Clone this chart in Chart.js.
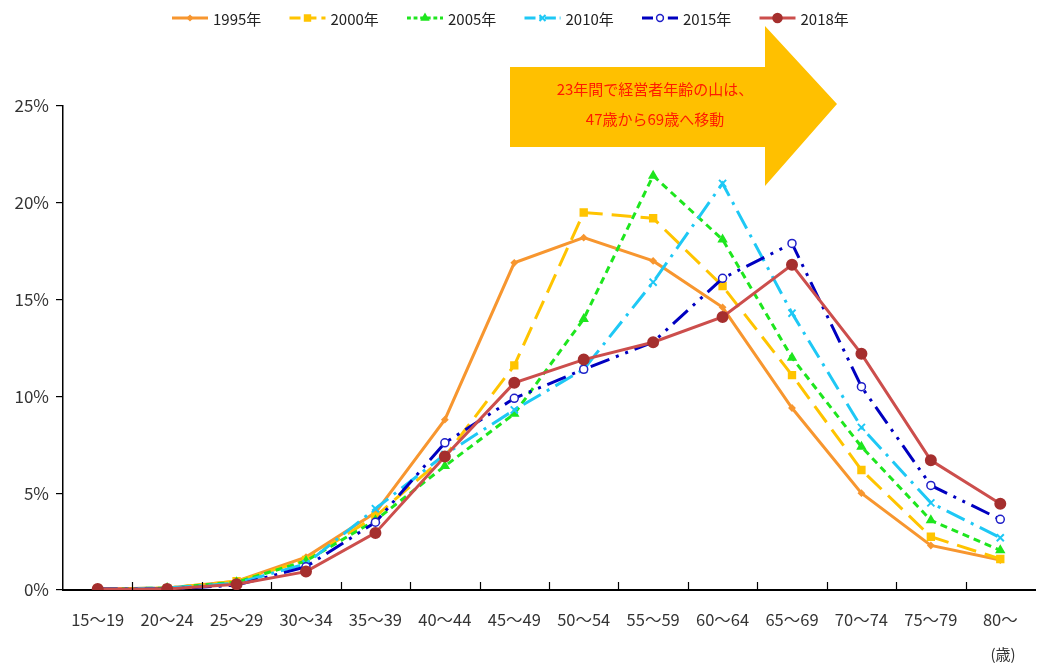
<!DOCTYPE html>
<html>
<head>
<meta charset="utf-8">
<script src="https://cdn.jsdelivr.net/npm/chart.js@4.4.1/dist/chart.umd.min.js"></script>
<style>
  html, body { margin: 0; padding: 0; background: #fff; overflow: hidden; }
  #wrap { width: 1042px; height: 665px; }
</style>
</head>
<body>
<div id="wrap"><canvas id="ageChart" width="1042" height="665"></canvas></div>
<script>
// age groups and share of business owners (%) per survey year
const ageGroups = ['15～19', '20～24', '25～29', '30～34', '35～39', '40～44', '45～49',
                   '50～54', '55～59', '60～64', '65～69', '70～74', '75～79', '80～'];
const years = ['1995年', '2000年', '2005年', '2010年', '2015年', '2018年'];

const share1995 = [0.05, 0.1, 0.45, 1.7, 4.0, 8.8, 16.9, 18.2, 17.0, 14.6, 9.4, 5.0, 2.3, 1.55];
const share2000 = [0.05, 0.1, 0.45, 1.55, 3.8, 6.9, 11.6, 19.5, 19.2, 15.7, 11.1, 6.2, 2.75, 1.6];
const share2005 = [0.05, 0.1, 0.4, 1.5, 3.6, 6.4, 9.1, 14.0, 21.4, 18.1, 12.0, 7.4, 3.6, 2.05];
const share2010 = [0.05, 0.1, 0.35, 1.35, 4.2, 7.0, 9.3, 11.4, 15.9, 21.0, 14.3, 8.4, 4.5, 2.7];
const share2015 = [0.05, 0.05, 0.25, 1.2, 3.5, 7.6, 9.9, 11.4, 12.8, 16.1, 17.9, 10.5, 5.4, 3.65];
const share2018 = [0.05, 0.05, 0.3, 0.95, 2.95, 6.9, 10.7, 11.9, 12.8, 14.1, 16.8, 12.2, 6.7, 4.45];

const yTicks = [0, 5, 10, 15, 20, 25];

const FONT = '"Noto Sans CJK JP", "Noto Sans", sans-serif';

const seriesStyle = [
  { data: share1995, color: '#F7962F', point: '#F7962F', dash: [],              pointStyle: 'rectRot', radius: 2.5, fill: '#F7962F' },
  { data: share2000, color: '#FFC400', point: '#FFC400', dash: [20, 9],         pointStyle: 'rect',    radius: 4.5, fill: '#FFC400' },
  { data: share2005, color: '#1EE61E', point: '#1EE61E', dash: [7, 5],          pointStyle: 'triangle', radius: 4, fill: '#1EE61E' },
  { data: share2010, color: '#1EC8F5', point: '#1EC8F5', dash: [20, 7, 3, 7],   pointStyle: 'crossRot', radius: 5, fill: '#1EC8F5' },
  { data: share2015, color: '#0000C0', point: '#2020C8', dash: [20, 7, 3, 7, 3, 7], pointStyle: 'circle', radius: 4, fill: '#FFFFFF' },
  { data: share2018, color: '#CC4E4C', point: '#A52F2E', dash: [],              pointStyle: 'circle',  radius: 5, fill: '#A52F2E' }
];

const datasets = seriesStyle.map((s, i) => ({
  label: years[i],
  data: s.data,
  borderColor: s.color,
  backgroundColor: s.fill,
  borderWidth: 3,
  borderDash: s.dash,
  tension: 0,
  pointStyle: s.pointStyle,
  pointRadius: s.radius,
  pointBorderColor: s.point,
  pointBackgroundColor: s.fill,
  pointBorderWidth: i === 4 ? 1.5 : 2,
  order: 6 - i
}));

// yellow arrow with the note
const arrowNote = {
  id: 'arrowNote',
  beforeDatasetsDraw(chart) {
    const c = chart.ctx;
    c.save();
    c.fillStyle = '#FFC000';
    c.beginPath();
    c.moveTo(510, 67);
    c.lineTo(765, 67);
    c.lineTo(765, 26);
    c.lineTo(837, 104);
    c.lineTo(765, 186);
    c.lineTo(765, 147);
    c.lineTo(510, 147);
    c.closePath();
    c.fill();
    c.fillStyle = '#FF1A00';
    c.font = '15px ' + FONT;
    c.textAlign = 'center';
    c.textBaseline = 'middle';
    c.fillText('23年間で経営者年齢の山は、', 655, 89);
    c.fillText('47歳から69歳へ移動', 655, 119);
    c.restore();
  }
};

// legend drawn as line samples with markers, plus inner x ticks and unit label
const decorations = {
  id: 'decorations',
  afterDraw(chart) {
    const c = chart.ctx;
    const xs = chart.scales.x;
    const area = chart.chartArea;
    c.save();
    // x ticks pointing up, between categories
    const step = (xs.getPixelForValue(1) - xs.getPixelForValue(0));
    c.strokeStyle = '#000';
    c.lineWidth = 1.2;
    for (let i = 1; i < ageGroups.length; i++) {
      const x = Math.round(xs.getPixelForValue(i) - step / 2) + 0.5;
      c.beginPath();
      c.moveTo(x, area.bottom);
      c.lineTo(x, area.bottom - 8);
      c.stroke();
    }
    // unit
    c.fillStyle = '#333';
    c.font = '15px ' + FONT;
    c.textAlign = 'center';
    c.textBaseline = 'middle';
    c.fillText('(歳)', 1003, 654);

    // legend
    const startX = 172, gap = 117.5, y = 18;
    chart.data.datasets.forEach((ds, i) => {
      const x0 = startX + i * gap;
      c.save();
      c.strokeStyle = ds.borderColor;
      c.lineWidth = 3;
      c.setLineDash(ds.borderDash.length ? ds.borderDash.map(v => v * 0.55) : []);
      c.beginPath();
      c.moveTo(x0, y);
      c.lineTo(x0 + 36, y);
      c.stroke();
      c.setLineDash([]);
      c.fillStyle = ds.pointBackgroundColor;
      c.strokeStyle = ds.pointBorderColor;
      c.lineWidth = ds.pointBorderWidth;
      Chart.helpers.drawPoint(c, {
        pointStyle: ds.pointStyle,
        radius: ds.pointRadius * 0.85,
        rotation: 0,
        borderWidth: ds.pointBorderWidth
      }, x0 + 18, y);
      c.restore();
      c.fillStyle = '#222';
      c.font = '15px ' + FONT;
      c.textAlign = 'left';
      c.textBaseline = 'middle';
      c.fillText(ds.label, x0 + 41, y + 1);
    });
    c.restore();
  }
};

new Chart(document.getElementById('ageChart').getContext('2d'), {
  type: 'line',
  data: { labels: ageGroups, datasets: datasets },
  options: {
    responsive: false,
    animation: false,
    layout: { padding: { top: 106, right: 0, bottom: 0, left: 0 } },
    plugins: {
      legend: { display: false },
      tooltip: { enabled: false }
    },
    scales: {
      x: {
        offset: true,
        grid: { display: false, drawTicks: false },
        border: { display: true, color: '#000', width: 2 },
        ticks: {
          color: '#333',
          font: { family: FONT, size: 16.5 },
          padding: 20,
          maxRotation: 0,
          autoSkip: false
        },
        afterFit(scale) { scale.height = 75; }
      },
      y: {
        min: 0,
        max: 25,
        afterBuildTicks(scale) { scale.ticks = yTicks.map(v => ({ value: v })); },
        grid: { display: true, drawOnChartArea: false, drawTicks: true, tickLength: 7, color: '#000', lineWidth: 1.2 },
        border: { display: true, color: '#000', width: 1.5 },
        ticks: {
          color: '#333',
          font: { family: FONT, size: 17 },
          padding: 7,
          callback: v => v + '%'
        },
        afterFit(scale) { scale.width = 63; }
      }
    }
  },
  plugins: [arrowNote, decorations]
});
</script>
</body>
</html>
